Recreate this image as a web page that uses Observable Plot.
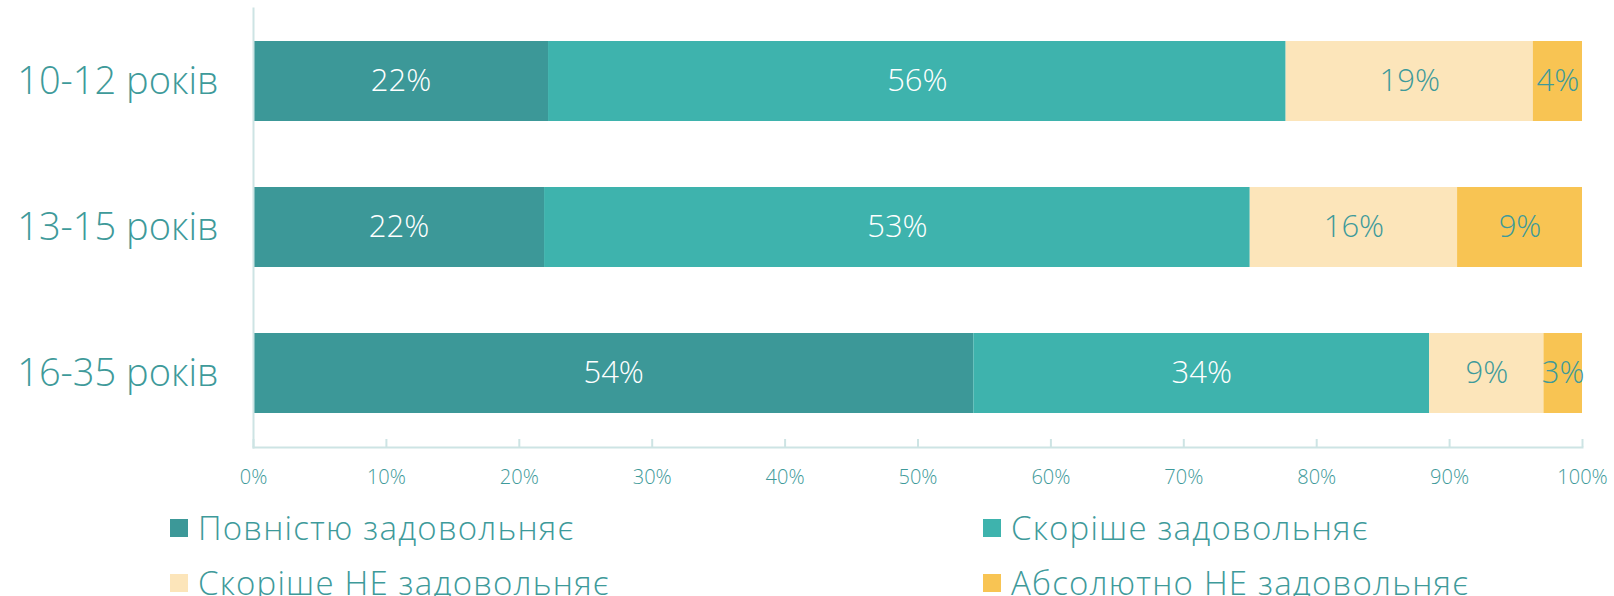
<!DOCTYPE html>
<html>
<head>
<meta charset="utf-8">
<script src="https://cdn.jsdelivr.net/npm/d3@7"></script>
<script src="https://cdn.jsdelivr.net/npm/@observablehq/plot@0.6"></script>
<style>
  html, body { margin: 0; padding: 0; background: #fff; overflow: hidden; }
  body { width: 1614px; height: 596px; font-family: "Open Sans", sans-serif; }
  #legend { display: grid; grid-template-columns: 813px 600px; padding-left: 170px; }
  #legend .item { display: flex; align-items: center; height: 55px; font-size: 33px; font-weight: 300; letter-spacing: 1.2px; color: #3e9a9a; white-space: nowrap; }
  #legend .sw { width: 18px; height: 18px; margin-right: 10px; flex: none; }
</style>
</head>
<body>
<div id="chart"></div>
<div id="legend"></div>
<script>
const categories = ["10-12 років", "13-15 років", "16-35 років"];
const series = ["Повністю задовольняє", "Скоріше задовольняє", "Скоріше НЕ задовольняє", "Абсолютно НЕ задовольняє"];
const fullySatisfied   = [22.2, 21.9, 54.2];
const ratherSatisfied  = [55.5, 53.1, 34.3];
const ratherNot        = [18.6, 15.6, 8.6];
const absolutelyNot    = [3.7, 9.4, 2.9];
const colors = ["#3c9898", "#3eb3ad", "#fce5ba", "#f8c453"];
const labelColors = ["#ffffff", "#ffffff", "#3e9a9a", "#3e9a9a"];
const xTicks = [0, 10, 20, 30, 40, 50, 60, 70, 80, 90, 100];

const teal = "#3e9a9a";
const seriesValues = [fullySatisfied, ratherSatisfied, ratherNot, absolutelyNot];
const data = [];
series.forEach((s, si) => categories.forEach((c, ci) => data.push({cat: c, series: s, si, value: seriesValues[si][ci]})));

const stackOpts = {x: "value", y: "cat", z: "series", order: null};

const chart = Plot.plot({
  width: 1614,
  height: 500,
  marginLeft: 253,
  marginRight: 32,
  marginTop: 8,
  marginBottom: 53,
  style: {fontFamily: "Open Sans, sans-serif", background: "#fff"},
  x: {domain: [0, 100], axis: null},
  y: {domain: categories, axis: null, paddingInner: 0.45, paddingOuter: 0.225},
  color: {type: "identity"},
  marks: [
    Plot.barX(data, Plot.stackX({...stackOpts, fill: d => colors[d.si]})),
    Plot.text(data, Plot.stackX({...stackOpts, text: d => Math.round(d.value) + "%", fill: d => labelColors[d.si], fontSize: 31, fontWeight: 300})),
    Plot.axisY({tickSize: 0, tickPadding: 35, fontSize: 38, fontWeight: 300, color: teal, label: null}),
    Plot.frame({anchor: "left", stroke: "#cde4e4", strokeWidth: 2}),
    Plot.frame({anchor: "bottom", stroke: "#cde4e4", strokeWidth: 2}),
    Plot.axisX(xTicks, {tickSize: 8, dy: -8, stroke: "#cde4e4", strokeWidth: 2, tickFormat: () => "", label: null}),
    Plot.axisX(xTicks, {tickSize: 0, tickPadding: 22, fontSize: 20, fontWeight: 300, color: teal, tickFormat: d => d + "%", label: null})
  ]
});
document.getElementById("chart").appendChild(chart);

const legend = document.getElementById("legend");
[0, 1, 2, 3].forEach(i => {
  const item = document.createElement("div");
  item.className = "item";
  const sw = document.createElement("span");
  sw.className = "sw";
  sw.style.background = colors[i];
  const t = document.createElement("span");
  t.textContent = series[i];
  item.appendChild(sw);
  item.appendChild(t);
  legend.appendChild(item);
});
</script>
</body>
</html>
